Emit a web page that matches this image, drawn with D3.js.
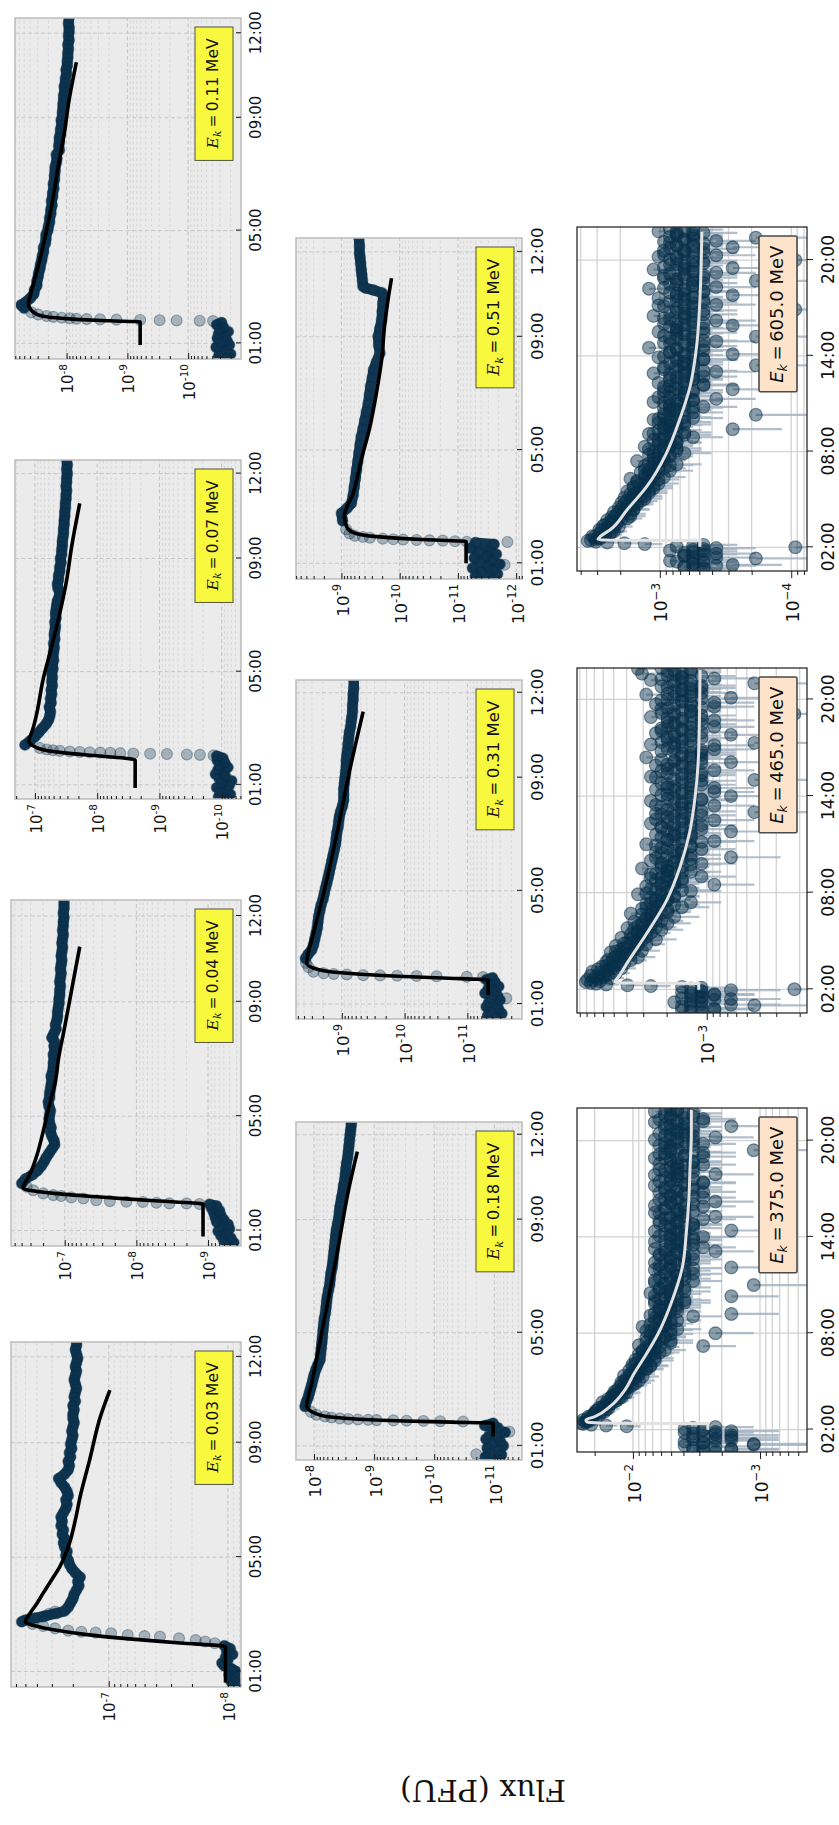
<!DOCTYPE html>
<html>
<head>
<meta charset="utf-8">
<script src="https://cdn.jsdelivr.net/npm/d3@7"></script>
<style>
  body { margin: 0; background: #fff; }
  svg { display: block; }
  text { font-family: "DejaVu Sans", sans-serif; fill: #111; }
</style>
</head>
<body>
<svg id="fig" width="839" height="1825"></svg>
<script>
// ---------------------------------------------------------------
// Proton flux time profiles, one panel per kinetic-energy channel.
// Low-energy channels: [hour, log10 flux] samples, onset points and
// the fitted profile.  High-energy channels: counts per sample.
// ---------------------------------------------------------------
const hourTicksLow  = [1, 5, 9, 12];
const hourTicksHigh = [2, 8, 14, 20];

// ---- 0.03 MeV ----
const pre003 = [[0.50,-8.04],[0.60,-8.08],[0.70,-8.02],[0.80,-8.06],[0.90,-8.01],[1.00,-8.07],[1.10,-8.03],[1.20,-7.97],[1.30,-7.95],[1.40,-8.00],[1.50,-7.98],[1.60,-8.04],[1.70,-7.99],[1.80,-8.02],[1.90,-7.97]];
const onset003 = [[1.99,-7.89],[2.05,-7.81],[2.10,-7.73],[2.16,-7.59],[2.22,-7.43],[2.24,-7.30],[2.28,-7.16],[2.34,-7.02],[2.36,-6.89],[2.39,-6.77],[2.43,-6.66],[2.51,-6.55],[2.59,-6.45],[2.66,-6.36],[2.92,-6.45],[3.02,-6.50],[3.10,-6.55]];
const decay003 = [[2.74,-6.27],[2.80,-6.30],[2.87,-6.38],[2.95,-6.47],[3.03,-6.56],[3.12,-6.63],[3.25,-6.66],[3.40,-6.68],[3.55,-6.70],[3.70,-6.71],[3.85,-6.73],[4.00,-6.75],[4.15,-6.74],[4.30,-6.76],[4.45,-6.72],[4.60,-6.69],[4.75,-6.67],[4.90,-6.66],[5.05,-6.64],[5.20,-6.65],[5.35,-6.63],[5.50,-6.62],[5.65,-6.63],[5.80,-6.61],[5.95,-6.62],[6.10,-6.60],[6.25,-6.61],[6.40,-6.60],[6.55,-6.62],[6.70,-6.64],[6.85,-6.65],[7.00,-6.64],[7.15,-6.66],[7.30,-6.65],[7.45,-6.63],[7.60,-6.60],[7.75,-6.58],[7.90,-6.63],[8.05,-6.66],[8.20,-6.67],[8.35,-6.66],[8.50,-6.68],[8.65,-6.67],[8.80,-6.69],[8.95,-6.68],[9.10,-6.69],[9.25,-6.70],[9.40,-6.69],[9.55,-6.70],[9.70,-6.71],[9.85,-6.70],[10.00,-6.70],[10.15,-6.71],[10.30,-6.70],[10.45,-6.72],[10.60,-6.71],[10.75,-6.72],[10.90,-6.73],[11.05,-6.72],[11.20,-6.71],[11.35,-6.72],[11.50,-6.73],[11.65,-6.72],[11.80,-6.73],[11.95,-6.74],[12.10,-6.73],[12.25,-6.72],[12.40,-6.73],[12.55,-6.73]];
const fit003 = [[0.62,-7.98],[1.87,-7.98],[2.00,-7.60],[2.15,-7.15],[2.30,-6.80],[2.45,-6.55],[2.60,-6.38],[2.72,-6.30],[2.85,-6.31],[3.04,-6.34],[3.40,-6.40],[3.74,-6.45],[4.20,-6.52],[4.67,-6.59],[5.48,-6.67],[6.30,-6.72],[7.11,-6.76],[8.40,-6.84],[9.91,-6.93],[10.84,-7.01]];

// ---- 0.04 MeV ----
const pre004 = [[0.50,-9.28],[0.58,-9.36],[0.66,-9.22],[0.74,-9.32],[0.82,-9.18],[0.90,-9.26],[0.98,-9.14],[1.06,-9.30],[1.14,-9.20],[1.22,-9.28],[1.30,-9.12],[1.38,-9.22],[1.46,-9.10],[1.54,-9.18],[1.62,-9.08],[1.70,-9.16],[1.78,-9.05],[1.86,-9.12],[1.92,-9.02]];
const onset004 = [[1.93,-8.88],[1.95,-8.70],[1.95,-8.46],[1.97,-8.28],[2.00,-8.09],[2.01,-7.86],[2.03,-7.63],[2.06,-7.44],[2.12,-7.26],[2.16,-7.09],[2.21,-6.95],[2.24,-6.84],[2.30,-6.70],[2.41,-6.56],[2.53,-6.47]];
const decay004 = [[2.65,-6.40],[2.80,-6.45],[2.95,-6.55],[3.10,-6.62],[3.25,-6.67],[3.40,-6.71],[3.55,-6.74],[3.70,-6.78],[3.85,-6.82],[4.00,-6.86],[4.15,-6.85],[4.30,-6.82],[4.45,-6.80],[4.60,-6.81],[4.75,-6.79],[4.90,-6.78],[5.05,-6.79],[5.20,-6.80],[5.35,-6.78],[5.50,-6.77],[5.65,-6.79],[5.80,-6.79],[5.95,-6.80],[6.10,-6.81],[6.25,-6.82],[6.40,-6.81],[6.55,-6.83],[6.70,-6.84],[6.85,-6.84],[7.00,-6.85],[7.15,-6.84],[7.30,-6.86],[7.45,-6.85],[7.60,-6.86],[7.75,-6.82],[7.90,-6.85],[8.05,-6.88],[8.20,-6.87],[8.35,-6.89],[8.50,-6.90],[8.65,-6.90],[8.80,-6.91],[8.95,-6.92],[9.10,-6.92],[9.25,-6.93],[9.40,-6.93],[9.55,-6.94],[9.70,-6.93],[9.85,-6.94],[10.00,-6.95],[10.15,-6.94],[10.30,-6.95],[10.45,-6.96],[10.60,-6.95],[10.75,-6.96],[10.90,-6.97],[11.05,-6.96],[11.20,-6.97],[11.35,-6.98],[11.50,-6.97],[11.65,-6.98],[11.80,-6.98],[11.95,-6.99],[12.10,-6.98],[12.25,-6.99],[12.40,-6.99],[12.58,-6.99]];
const fit004 = [[0.79,-8.93],[1.92,-8.93],[2.05,-8.20],[2.18,-7.45],[2.30,-6.85],[2.40,-6.52],[2.48,-6.42],[2.60,-6.43],[2.85,-6.49],[3.25,-6.56],[3.70,-6.62],[4.17,-6.67],[5.22,-6.77],[6.38,-6.88],[6.96,-6.91],[8.00,-6.99],[9.06,-7.07],[10.00,-7.14],[10.93,-7.21]];

// ---- 0.07 MeV ----
const pre007 = [[0.50,-10.10],[0.58,-9.95],[0.66,-10.14],[0.74,-9.98],[0.82,-10.08],[0.90,-9.92],[0.98,-10.12],[1.06,-10.00],[1.14,-10.16],[1.22,-9.96],[1.30,-10.06],[1.38,-9.90],[1.46,-10.04],[1.54,-9.94],[1.62,-10.10],[1.70,-9.97],[1.78,-10.05],[1.86,-9.93],[1.94,-10.02],[2.02,-9.92]];
const onset007 = [[2.04,-9.87],[2.06,-9.65],[2.07,-9.44],[2.09,-9.12],[2.10,-8.85],[2.11,-8.58],[2.12,-8.37],[2.13,-8.21],[2.14,-8.05],[2.15,-7.88],[2.16,-7.72],[2.18,-7.56],[2.20,-7.40],[2.22,-7.29],[2.25,-7.19],[2.30,-7.08]];
const decay007 = [[2.41,-6.84],[2.55,-6.92],[2.70,-7.00],[2.85,-7.06],[3.00,-7.12],[3.15,-7.18],[3.30,-7.22],[3.45,-7.24],[3.60,-7.25],[3.75,-7.23],[3.90,-7.26],[4.05,-7.25],[4.20,-7.27],[4.35,-7.26],[4.50,-7.28],[4.65,-7.27],[4.80,-7.28],[4.95,-7.27],[5.10,-7.29],[5.25,-7.28],[5.40,-7.30],[5.55,-7.29],[5.70,-7.30],[5.85,-7.31],[6.00,-7.30],[6.15,-7.32],[6.30,-7.31],[6.45,-7.32],[6.60,-7.33],[6.75,-7.32],[6.90,-7.34],[7.05,-7.33],[7.20,-7.34],[7.35,-7.35],[7.50,-7.36],[7.65,-7.39],[7.80,-7.40],[7.95,-7.37],[8.10,-7.36],[8.25,-7.38],[8.40,-7.38],[8.55,-7.40],[8.70,-7.40],[8.85,-7.42],[9.00,-7.41],[9.15,-7.43],[9.30,-7.43],[9.45,-7.44],[9.60,-7.44],[9.75,-7.45],[9.90,-7.46],[10.05,-7.46],[10.20,-7.47],[10.35,-7.47],[10.50,-7.48],[10.65,-7.48],[10.80,-7.49],[10.95,-7.49],[11.10,-7.50],[11.25,-7.50],[11.40,-7.51],[11.55,-7.50],[11.70,-7.51],[11.85,-7.51],[12.00,-7.52],[12.15,-7.51],[12.30,-7.52],[12.50,-7.51]];
const fit007 = [[0.89,-8.61],[1.88,-8.61],[2.02,-8.05],[2.12,-7.51],[2.24,-7.13],[2.41,-6.95],[2.55,-6.90],[2.75,-6.93],[3.00,-6.97],[3.53,-7.03],[4.71,-7.13],[5.89,-7.27],[7.07,-7.40],[8.24,-7.51],[9.42,-7.59],[10.95,-7.72]];

// ---- 0.11 MeV ----
const pre011 = [[0.46,-10.66],[0.54,-10.50],[0.62,-10.70],[0.70,-10.52],[0.78,-10.62],[0.86,-10.46],[0.94,-10.68],[1.02,-10.55],[1.10,-10.64],[1.18,-10.48],[1.26,-10.60],[1.34,-10.50],[1.42,-10.66],[1.50,-10.52],[1.58,-10.58],[1.66,-10.47],[1.74,-10.55]];
const onset011 = [[1.79,-10.41],[1.80,-10.19],[1.81,-9.81],[1.82,-9.53],[1.83,-9.21],[1.84,-8.82],[1.85,-8.55],[1.86,-8.33],[1.87,-8.16],[1.89,-8.05],[1.91,-7.92],[1.94,-7.78],[1.97,-7.67],[2.02,-7.53],[2.10,-7.42]];
const decay011 = [[2.25,-7.30],[2.36,-7.25],[2.47,-7.33],[2.60,-7.40],[2.75,-7.46],[2.90,-7.47],[3.05,-7.51],[3.20,-7.51],[3.35,-7.53],[3.50,-7.54],[3.65,-7.56],[3.80,-7.57],[3.95,-7.59],[4.10,-7.60],[4.25,-7.62],[4.40,-7.62],[4.55,-7.65],[4.70,-7.66],[4.85,-7.66],[5.00,-7.69],[5.15,-7.70],[5.30,-7.72],[5.45,-7.72],[5.60,-7.74],[5.75,-7.74],[5.90,-7.76],[6.05,-7.75],[6.20,-7.77],[6.35,-7.77],[6.50,-7.79],[6.65,-7.78],[6.80,-7.80],[6.95,-7.80],[7.10,-7.81],[7.25,-7.81],[7.40,-7.83],[7.55,-7.84],[7.70,-7.83],[7.85,-7.88],[8.00,-7.87],[8.15,-7.88],[8.30,-7.88],[8.45,-7.90],[8.60,-7.90],[8.75,-7.92],[8.90,-7.91],[9.05,-7.93],[9.20,-7.93],[9.35,-7.94],[9.50,-7.94],[9.65,-7.95],[9.80,-7.95],[9.95,-7.97],[10.10,-7.96],[10.25,-7.98],[10.40,-7.98],[10.55,-8.00],[10.70,-7.99],[10.85,-8.01],[11.00,-8.01],[11.15,-8.02],[11.30,-8.02],[11.45,-8.03],[11.60,-8.02],[11.75,-8.04],[11.90,-8.03],[12.05,-8.04],[12.20,-8.04],[12.35,-8.03],[12.56,-8.04]];
const fit011 = [[0.94,-9.21],[1.76,-9.21],[1.80,-8.70],[1.85,-8.15],[1.92,-7.75],[2.02,-7.52],[2.20,-7.41],[2.42,-7.37],[2.60,-7.39],[3.00,-7.44],[3.72,-7.53],[4.90,-7.66],[6.08,-7.77],[7.26,-7.86],[8.44,-7.96],[9.62,-8.04],[10.97,-8.16]];

// ---- 0.18 MeV ----
const pre018 = [[0.52,-11.05],[0.60,-10.85],[0.68,-11.12],[0.76,-10.90],[0.84,-11.08],[0.92,-10.88],[1.00,-11.15],[1.08,-10.95],[1.16,-11.10],[1.24,-10.86],[1.32,-11.04],[1.40,-10.92],[1.48,-11.18],[1.56,-10.96],[1.64,-11.06],[1.72,-10.84],[1.80,-10.98]];
const onset018 = [[0.70,-10.70],[1.50,-11.25],[1.86,-10.48],[1.87,-10.10],[1.88,-9.82],[1.89,-9.54],[1.90,-9.32],[1.91,-9.04],[1.92,-8.90],[1.93,-8.73],[1.95,-8.57],[1.97,-8.43],[2.00,-8.29],[2.04,-8.18],[2.10,-8.04],[2.20,-7.95]];
const decay018 = [[2.39,-7.85],[2.55,-7.87],[2.70,-7.90],[2.85,-7.92],[3.00,-7.94],[3.15,-7.96],[3.33,-7.98],[3.50,-8.00],[3.70,-8.03],[3.85,-8.06],[4.04,-8.10],[4.25,-8.11],[4.45,-8.12],[4.65,-8.13],[4.85,-8.14],[5.10,-8.15],[5.30,-8.16],[5.50,-8.17],[5.70,-8.19],[5.90,-8.20],[6.10,-8.21],[6.28,-8.22],[6.50,-8.24],[6.70,-8.26],[6.90,-8.27],[7.10,-8.28],[7.30,-8.30],[7.46,-8.31],[7.65,-8.32],[7.85,-8.33],[8.05,-8.34],[8.25,-8.35],[8.45,-8.36],[8.63,-8.37],[8.85,-8.39],[9.05,-8.41],[9.25,-8.42],[9.45,-8.43],[9.65,-8.45],[9.81,-8.46],[10.00,-8.48],[10.20,-8.49],[10.40,-8.51],[10.60,-8.52],[10.80,-8.53],[10.99,-8.54],[11.20,-8.56],[11.40,-8.57],[11.60,-8.58],[11.80,-8.59],[12.00,-8.60],[12.17,-8.61],[12.35,-8.62],[12.50,-8.62]];
const fit018 = [[1.33,-10.98],[1.80,-10.98],[1.84,-10.30],[1.88,-9.50],[1.94,-8.75],[2.02,-8.28],[2.15,-8.02],[2.40,-7.88],[3.20,-7.96],[4.04,-8.04],[6.00,-8.22],[8.00,-8.40],[10.00,-8.57],[11.40,-8.72]];

// ---- 0.31 MeV ----
const pre031 = [[0.50,-11.48],[0.58,-11.32],[0.66,-11.55],[0.74,-11.36],[0.82,-11.50],[0.90,-11.30],[0.98,-11.46],[1.06,-11.34],[1.14,-11.52],[1.22,-11.38],[1.30,-11.48],[1.38,-11.28],[1.46,-11.44],[1.54,-11.33],[1.62,-11.50],[1.70,-11.36],[1.78,-11.44],[1.86,-11.30],[1.93,-11.40]];
const onset031 = [[1.20,-11.62],[1.95,-11.25],[1.96,-10.99],[1.98,-10.51],[1.99,-10.19],[2.00,-9.88],[2.01,-9.61],[2.02,-9.34],[2.04,-9.08],[2.06,-8.87],[2.09,-8.71],[2.14,-8.55],[2.30,-8.47],[2.45,-8.43]];
const decay031 = [[2.61,-8.42],[2.75,-8.46],[2.91,-8.52],[3.10,-8.55],[3.30,-8.57],[3.50,-8.59],[3.70,-8.61],[3.90,-8.62],[4.09,-8.63],[4.30,-8.65],[4.50,-8.67],[4.70,-8.70],[4.90,-8.72],[5.10,-8.74],[5.27,-8.76],[5.45,-8.78],[5.65,-8.80],[5.85,-8.82],[6.05,-8.84],[6.25,-8.86],[6.44,-8.88],[6.65,-8.90],[6.85,-8.91],[7.05,-8.92],[7.25,-8.94],[7.45,-8.95],[7.62,-8.96],[7.80,-8.98],[8.00,-9.01],[8.21,-9.03],[8.40,-9.03],[8.60,-9.03],[8.80,-9.04],[9.00,-9.05],[9.20,-9.06],[9.40,-9.07],[9.60,-9.07],[9.80,-9.08],[9.98,-9.09],[10.20,-9.10],[10.40,-9.11],[10.60,-9.12],[10.80,-9.14],[11.00,-9.15],[11.15,-9.16],[11.35,-9.17],[11.55,-9.17],[11.75,-9.18],[11.95,-9.18],[12.15,-9.19],[12.50,-9.19]];
const fit031 = [[1.32,-11.33],[1.85,-11.33],[1.92,-10.60],[1.98,-9.90],[2.05,-9.30],[2.12,-8.90],[2.22,-8.62],[2.44,-8.44],[3.50,-8.55],[5.00,-8.72],[7.00,-8.92],[9.00,-9.10],[11.33,-9.34]];

// ---- 0.51 MeV ----
const pre051 = [[0.48,-11.55],[0.55,-11.30],[0.62,-11.68],[0.69,-11.40],[0.76,-11.60],[0.83,-11.25],[0.90,-11.52],[0.97,-11.72],[1.04,-11.38],[1.11,-11.58],[1.18,-11.28],[1.25,-11.50],[1.32,-11.66],[1.39,-11.35],[1.46,-11.55],[1.53,-11.22],[1.60,-11.48],[1.67,-11.62],[1.73,-11.30]];
const onset051 = [[0.95,-11.80],[1.75,-11.85],[1.76,-11.15],[1.78,-10.95],[1.80,-10.74],[1.81,-10.51],[1.82,-10.29],[1.84,-10.06],[1.85,-9.89],[1.87,-9.71],[1.90,-9.49],[1.93,-9.37],[1.97,-9.23],[2.05,-9.14],[2.20,-9.08]];
const decay051 = [[2.50,-9.02],[2.77,-9.00],[2.95,-9.10],[3.12,-9.17],[3.40,-9.20],[3.70,-9.22],[4.00,-9.24],[4.30,-9.26],[4.60,-9.28],[4.90,-9.30],[5.20,-9.32],[5.47,-9.34],[5.75,-9.37],[6.05,-9.40],[6.35,-9.43],[6.65,-9.46],[6.95,-9.48],[7.25,-9.50],[7.55,-9.53],[7.83,-9.55],[8.10,-9.60],[8.42,-9.66],[8.70,-9.64],[9.01,-9.63],[9.30,-9.66],[9.60,-9.69],[9.90,-9.70],[10.19,-9.71],[10.40,-9.72],[10.55,-9.70],[10.65,-9.55],[10.72,-9.42],[10.78,-9.37],[11.00,-9.36],[11.20,-9.35],[11.37,-9.34],[11.60,-9.33],[11.80,-9.32],[11.96,-9.31],[12.20,-9.31],[12.52,-9.30]];
const fit051 = [[1.00,-11.14],[1.77,-11.14],[1.82,-10.60],[1.88,-10.00],[1.95,-9.55],[2.05,-9.25],[2.25,-9.10],[2.65,-9.05],[3.47,-9.20],[4.65,-9.34],[5.83,-9.49],[7.01,-9.60],[8.19,-9.69],[9.37,-9.74],[10.31,-9.80],[11.07,-9.86]];

// ---- high-energy channels: counts every 0.1 h, two interleaved series ----
const countsStartA = 0.60;
const countsStartB = 0.65;
const countsCadence = 0.1;

const countFlux375 = 5.6e-4;
const counts375a = [
  4,6,3,5,7,2,5,4,6,3,
  5,4,7,3,5,6,20,38,46,41,
  44,37,40,33,36,30,34,28,31,29,
  27,31,24,28,22,26,25,20,24,21,
  23,19,22,17,21,18,20,15,19,17,
  16,19,14,18,13,17,15,12,16,14,
  13,16,11,15,12,14,5,13,9,12,
  11,14,10,12,4,13,9,11,15,10,
  9,12,8,11,10,13,3,10,9,11,
  8,11,9,7,12,8,10,3,9,13,
  7,9,11,8,2,10,8,12,7,9,
  8,6,10,7,11,3,9,8,12,7,
  6,9,7,11,8,4,10,7,9,6,
  8,12,6,9,5,7,10,8,3,9,
  7,10,6,8,11,5,9,7,8,12,
  6,8,10,5,7,9,4,11,8,6,
  9,7,5,10,8,6,12,7,5,9,
  6,10,8,4,9,7,11,6,8,5,
  8,6,9,12,5,7,10,6,2,9,
  7,11,5,8,6,9,4,10,7,8,
  6,9,7,3,10,8,5,11,7,6,
  9,6,12,8];
const counts375b = [
  5,3,6,4,2,5,7,3,4,6,
  3,6,4,5,7,4,29,44,42,39,
  41,35,38,36,32,35,29,33,30,27,
  29,25,27,23,26,24,21,25,22,20,
  21,18,20,22,16,19,17,21,16,18,
  17,14,16,13,18,15,14,17,12,15,
  14,12,15,10,13,11,16,12,14,9,
  12,10,13,9,11,14,8,12,10,13,
  10,11,9,12,6,10,12,8,11,9,
  10,8,12,9,7,11,9,12,8,10,
  9,11,7,10,8,12,6,9,11,8,
  7,10,8,12,6,9,11,7,9,10,
  9,7,11,6,10,8,12,5,8,9,
  7,10,8,6,11,9,7,12,8,6,
  9,6,11,8,7,10,4,9,11,7,
  8,10,7,12,6,9,8,10,5,9,
  7,11,8,6,10,9,7,5,11,8,
  9,7,12,8,6,10,8,9,7,11,
  6,9,8,10,7,11,5,9,8,10,
  9,6,10,7,12,8,6,9,11,7,
  8,10,6,9,7,12,8,5,9,10,
  7,10,8,9];
const fit375 = [[1.98,-2.59],[2.36,-2.59],[2.38,-2.10],[2.41,-1.75],[2.47,-1.64],[2.60,-1.63],[2.80,-1.70],[3.50,-1.83],[4.50,-1.94],[5.50,-2.01],[6.50,-2.09],[8.00,-2.20],[10.07,-2.31],[12.15,-2.39],[14.23,-2.42],[16.30,-2.44],[18.40,-2.45],[20.50,-2.46],[21.90,-2.46]];

const countFlux465 = 2.19e-4;
const counts465a = [
  5,7,4,6,2,5,8,6,3,5,
  6,4,7,5,1,5,12,26,34,29,
  36,24,31,27,22,33,25,20,28,23,
  19,26,17,23,15,21,18,24,14,20,
  16,22,13,18,15,11,20,14,17,12,
  15,10,18,12,14,9,16,11,13,8,
  12,17,9,11,14,7,10,13,6,11,
  9,12,8,15,10,6,11,8,13,4,
  10,7,9,12,5,8,11,6,9,14,
  7,10,5,8,12,6,3,9,7,11,
  8,5,10,6,13,7,4,9,6,8,
  11,6,3,8,7,10,5,12,6,4,
  7,9,5,11,2,8,6,10,4,7,
  6,12,5,8,3,9,6,7,11,4,
  8,5,10,6,2,7,12,5,9,6,
  4,9,6,11,7,3,8,5,13,6,
  7,5,10,4,8,6,12,2,7,9,
  5,8,3,11,6,7,10,4,8,6,
  9,4,7,12,5,1,8,6,10,5,
  6,11,4,7,9,3,6,13,5,8,
  7,5,10,6,2,8,12,4,7,9,
  14,6,8,15];
const counts465b = [
  6,4,5,7,3,6,5,4,7,5,
  4,6,5,3,6,7,18,31,37,33,
  30,27,34,25,29,26,30,23,26,21,
  24,21,25,19,22,17,20,22,16,19,
  18,15,19,16,14,17,13,16,15,14,
  13,16,11,15,12,14,10,13,12,11,
  14,10,12,9,13,11,8,12,10,9,
  11,8,10,13,9,7,12,9,10,8,
  8,11,7,10,9,12,7,9,8,10,
  9,6,10,8,7,11,8,6,10,7,
  7,9,6,11,8,5,9,7,10,6,
  8,7,9,5,10,6,8,9,7,11,
  6,8,10,7,5,9,7,6,11,8,
  7,5,9,6,10,7,4,8,6,9,
  6,9,7,5,8,11,6,7,5,10,
  8,6,7,9,5,8,10,6,7,5,
  6,8,5,9,7,4,8,10,6,7,
  9,6,8,5,10,7,6,9,5,8,
  7,5,9,6,8,10,6,7,9,4,
  8,6,7,10,5,8,7,9,6,7,
  6,9,5,8,7,6,10,7,5,8,
  7,9,6,10];
const fit465 = [[1.98,-2.94],[2.36,-2.94],[2.38,-2.60],[2.40,-2.35],[2.45,-2.31],[2.80,-2.34],[3.61,-2.40],[5.48,-2.55],[7.54,-2.70],[9.61,-2.80],[11.68,-2.87],[13.75,-2.91],[16.86,-2.94],[21.82,-2.95]];

const countFlux605 = 9.3e-5;
const counts605a = [
  6,5,7,3,6,8,5,2,6,7,
  4,6,9,5,1,6,14,27,38,33,
  30,35,26,29,24,31,27,22,28,25,
  23,27,19,25,21,18,24,20,17,22,
  19,16,21,15,18,20,14,17,13,19,
  15,12,17,14,11,16,13,18,10,14,
  12,15,9,13,11,14,8,12,16,10,
  11,9,13,7,12,10,8,14,9,11,
  8,12,10,6,9,13,7,11,3,10,
  9,7,11,8,12,6,10,2,9,8,
  7,10,5,9,8,12,6,4,11,7,
  8,6,10,3,7,9,5,11,7,6,
  9,5,7,12,4,8,6,10,2,7,
  6,8,5,11,7,3,9,6,8,13,
  5,7,10,4,6,9,2,8,6,11,
  7,5,8,3,10,6,4,9,7,12,
  5,8,6,1,7,10,4,6,9,5,
  11,6,3,8,5,7,13,4,6,9,
  6,2,8,5,10,7,4,6,12,3,
  7,9,5,6,1,8,11,4,7,6,
  10,5,3,8,6,9,4,7,2,6,
  8,5,11,6];
const counts605b = [
  5,7,4,6,5,9,6,4,7,5,
  7,5,6,4,8,5,20,33,36,31,
  34,28,31,25,30,27,24,29,23,26,
  25,21,24,18,23,20,22,17,21,19,
  17,20,16,19,14,17,15,18,16,13,
  14,17,12,15,13,16,11,14,12,13,
  13,11,14,10,12,9,13,11,10,12,
  10,12,9,11,8,13,10,9,11,8,
  9,11,8,10,7,12,9,8,10,9,
  8,10,7,9,11,7,8,10,6,9,
  8,6,9,7,10,8,6,9,7,10,
  7,9,6,8,10,5,8,7,9,6,
  8,6,9,7,5,10,7,8,6,9,
  7,5,8,10,6,7,9,5,8,6,
  6,9,7,5,8,6,10,7,5,8,
  8,6,9,7,5,8,6,10,7,6,
  7,9,5,8,6,11,7,5,8,7,
  6,8,7,9,5,7,10,6,8,5,
  8,6,10,7,5,9,6,8,7,10,
  6,8,7,5,9,6,8,10,5,7,
  7,9,6,8,5,10,7,6,9,8,
  6,8,7,9];
const fit605 = [[2.04,-3.305],[2.42,-3.305],[2.44,-2.90],[2.46,-2.60],[2.50,-2.53],[2.70,-2.55],[3.08,-2.62],[4.34,-2.75],[5.80,-2.90],[7.89,-3.05],[9.98,-3.15],[12.06,-3.23],[14.57,-3.28],[17.50,-3.305],[21.77,-3.32]];

// ---------------------------------------------------------------
// Layout: the figure is laid out landscape (1825 x 839) and turned
// a quarter turn to fit the portrait page.
// box = [left, right, top, bottom] in landscape pixels.
// ---------------------------------------------------------------
const lowPanels = [
  {id:'003', energy:'0.03', box:[138,483,11,241],  t:[0.46,12.52], lv:[-8.11,-6.18],  pre:pre003, onset:onset003, decay:decay003, fit:fit003, fs:15,   lfs:15.5},
  {id:'004', energy:'0.04', box:[579,925,11,241],  t:[0.46,12.56], lv:[-9.46,-6.25],  pre:pre004, onset:onset004, decay:decay004, fit:fit004, fs:15,   lfs:15.5},
  {id:'007', energy:'0.07', box:[1026,1365,15,241],t:[0.50,12.48], lv:[-10.31,-6.68], pre:pre007, onset:onset007, decay:decay007, fit:fit007, fs:15,   lfs:15.5},
  {id:'011', energy:'0.11', box:[1466,1807,15,241],t:[0.445,12.54],lv:[-10.87,-7.15], pre:pre011, onset:onset011, decay:decay011, fit:fit011, fs:15,   lfs:15.5},
  {id:'018', energy:'0.18', box:[365,703,296,522], t:[0.50,12.45], lv:[-11.46,-7.70], pre:pre018, onset:onset018, decay:decay018, fit:fit018, fs:16.5, lfs:16.5},
  {id:'031', energy:'0.31', box:[806,1145,296,522],t:[0.47,12.45], lv:[-11.87,-8.27], pre:pre031, onset:onset031, decay:decay031, fit:fit031, fs:16.5, lfs:16.5},
  {id:'051', energy:'0.51', box:[1246,1587,296,522],t:[0.445,12.49],lv:[-12.10,-8.22], pre:pre051, onset:onset051, decay:decay051, fit:fit051, fs:16.5, lfs:16.5}
];
const highPanels = [
  {id:'375', energy:'375.0', box:[373,717,577,807],  t:[0.60,22.03], lv:[-3.37,-1.56],   countsA:counts375a, countsB:counts375b, c:countFlux375, fit:fit375, fs:17, lfs:18},
  {id:'465', energy:'465.0', box:[812,1157,577,807], t:[0.53,21.95], lv:[-3.754,-2.025], countsA:counts465a, countsB:counts465b, c:countFlux465, fit:fit465, fs:17, lfs:18},
  {id:'605', energy:'605.0', box:[1254,1598,577,807],t:[0.515,22.07],lv:[-4.12,-2.37],   countsA:counts605a, countsB:counts605b, c:countFlux605, fit:fit605, fs:17, lfs:18}
];

const NAVY = '#08304b';
const svg = d3.select('#fig');
const fig = svg.append('g').attr('transform', 'translate(0,1825) rotate(-90)');

const hourFmt = h => d3.format('02d')(h) + ':00';

function setupAxes(p, hi) {
  const [x0, x1, y0, y1] = p.box;
  const w = x1 - x0, h = y1 - y0;
  const g = fig.append('g').attr('transform', `translate(${x0},${y0})`);
  const x = d3.scaleLinear().domain(p.t).range([0, w]);
  const y = d3.scaleLog().domain([Math.pow(10, p.lv[0]), Math.pow(10, p.lv[1])]).range([h, 0]);
  const all = y.ticks();
  const isMajor = v => Math.abs(Math.log10(v) - Math.round(Math.log10(v))) < 1e-6;
  const major = all.filter(isMajor);
  const minor = all.filter(v => !isMajor(v));
  const hours = hi ? hourTicksHigh : hourTicksLow;

  g.append('clipPath').attr('id', 'clip' + p.id)
    .append('rect').attr('width', w).attr('height', h);

  g.append('rect').attr('width', w).attr('height', h)
    .attr('fill', hi ? '#ffffff' : '#ebebeb');

  const grid = g.append('g');
  if (hi) {
    grid.selectAll('line.gy').data(all).join('line')
      .attr('x1', 0).attr('x2', w).attr('y1', d => y(d)).attr('y2', d => y(d))
      .attr('stroke', '#d2d2d2').attr('stroke-width', 1.3);
    grid.selectAll('line.gx').data(hours).join('line')
      .attr('x1', d => x(d)).attr('x2', d => x(d)).attr('y1', 0).attr('y2', h)
      .attr('stroke', '#d2d2d2').attr('stroke-width', 1.3);
  } else {
    grid.selectAll('line.gm').data(minor).join('line')
      .attr('x1', 0).attr('x2', w).attr('y1', d => y(d)).attr('y2', d => y(d))
      .attr('stroke', '#d3d3d3').attr('stroke-width', 0.8).attr('stroke-dasharray', '3,2.5');
    grid.selectAll('line.gM').data(major).join('line')
      .attr('x1', 0).attr('x2', w).attr('y1', d => y(d)).attr('y2', d => y(d))
      .attr('stroke', '#c4c4c4').attr('stroke-width', 1).attr('stroke-dasharray', '4,2.5');
    grid.selectAll('line.gx').data(hours).join('line')
      .attr('x1', d => x(d)).attr('x2', d => x(d)).attr('y1', 0).attr('y2', h)
      .attr('stroke', '#c8c8c8').attr('stroke-width', 1).attr('stroke-dasharray', '4,2.5');
  }
  return {g, x, y, w, h, major, minor, hours};
}

function finishAxes(p, hi, A) {
  const {g, x, y, w, h, major, minor, hours} = A;
  g.append('rect').attr('width', w).attr('height', h).attr('fill', 'none')
    .attr('stroke', hi ? '#1a1a1a' : '#bdbdbd').attr('stroke-width', hi ? 1.2 : 1.5);

  const dir = hi ? 1 : -1;
  const tickCol = '#1a1a1a';
  const noDomain = s => s.select('.domain').remove();

  g.append('g').attr('color', tickCol)
    .call(d3.axisLeft(y).tickValues(major).tickSize(dir * (hi ? 7 : 6)).tickFormat(''))
    .call(noDomain);
  g.append('g').attr('color', tickCol)
    .call(d3.axisLeft(y).tickValues(minor).tickSize(dir * (hi ? 4 : 3)).tickFormat(''))
    .call(noDomain);

  const xa = g.append('g').attr('transform', `translate(0,${h})`).attr('color', tickCol)
    .call(d3.axisBottom(x).tickValues(hours).tickSize(dir * (hi ? 6 : 5))
      .tickPadding(hi ? 8.5 : 9).tickFormat(hourFmt))
    .call(noDomain);
  xa.selectAll('text').attr('font-size', p.fs).attr('font-family', 'DejaVu Sans').attr('fill', '#111');

  // decade labels with superscript exponents
  const fs = p.fs;
  const lab = g.append('g');
  major.forEach(v => {
    const e = Math.round(Math.log10(v));
    const t = lab.append('text')
      .attr('x', hi ? -12 : -5).attr('y', y(v) + 0.45 * fs)
      .attr('text-anchor', 'end').attr('font-size', fs);
    t.append('tspan').text('10');
    t.append('tspan').attr('dy', -0.45 * fs).attr('font-size', 0.7 * fs)
      .text((hi ? '\u2212' : '-') + Math.abs(e));
  });

  // energy label box
  const lg = g.append('g');
  const box = lg.append('rect');
  const txt = lg.append('text').attr('font-size', p.lfs);
  const serif = hi ? 'DejaVu Sans' : 'DejaVu Serif';
  txt.append('tspan').attr('font-family', serif).attr('font-style', 'italic').text('E');
  txt.append('tspan').attr('font-family', serif).attr('font-style', 'italic')
    .attr('font-size', 0.7 * p.lfs).attr('dy', 0.22 * p.lfs).text('k');
  txt.append('tspan').attr('font-family', serif).attr('dy', -0.22 * p.lfs).text('\u2009=\u2009');
  txt.append('tspan').attr('font-family', 'DejaVu Sans').text(p.energy + ' MeV');
  const bb = txt.node().getBBox();
  const padX = hi ? 9 : 11, boxH = 38;
  const boxW = bb.width + 2 * padX;
  const bx = w - 9 - boxW, by = h - (hi ? 10 : 8) - boxH;
  box.attr('x', bx).attr('y', by).attr('width', boxW).attr('height', boxH)
    .attr('fill', hi ? '#fde3c9' : '#f8f83e')
    .attr('stroke', hi ? '#4a4a4a' : '#55553f').attr('stroke-width', hi ? 1.6 : 1)
    .attr('rx', hi ? 1.5 : 0);
  txt.attr('transform', `translate(${bx + padX - bb.x},${by + boxH / 2 - (bb.y + bb.height / 2)})`);
}

function drawLow(p) {
  const A = setupAxes(p, false);
  const {g, x, y} = A;
  const dg = g.append('g').attr('clip-path', `url(#clip${p.id})`);
  const band = d3.line().x(d => x(d[0])).y(d => y(Math.pow(10, d[1])));
  [p.pre, p.decay].forEach(arr => {
    dg.append('path').attr('d', band(arr)).attr('fill', 'none')
      .attr('stroke', '#072c47').attr('stroke-width', 10.5)
      .attr('stroke-linecap', 'round').attr('stroke-linejoin', 'round')
      .attr('stroke-opacity', 0.93);
  });
  dg.selectAll('circle').data([...p.pre, ...p.onset, ...p.decay]).join('circle')
    .attr('cx', d => x(d[0])).attr('cy', d => y(Math.pow(10, d[1]))).attr('r', 5.5)
    .attr('fill', NAVY).attr('fill-opacity', 0.3)
    .attr('stroke', NAVY).attr('stroke-opacity', 0.35).attr('stroke-width', 1.1);
  const fitLine = d3.line().x(d => x(d[0])).y(d => y(Math.pow(10, d[1]))).curve(d3.curveMonotoneX);
  dg.append('path').attr('d', fitLine(p.fit)).attr('fill', 'none')
    .attr('stroke', '#000').attr('stroke-width', 3.6).attr('stroke-linejoin', 'round');
  finishAxes(p, false, A);
}

function drawHigh(p) {
  const A = setupAxes(p, true);
  const {g, x, y, h} = A;
  const [ymin] = y.domain();
  const toPts = (arr, start) => arr.map((n, i) => ({t: start + i * countsCadence, n, v: n * p.c}));
  const pts = [...toPts(p.countsA, countsStartA), ...toPts(p.countsB, countsStartB)]
    .sort((a, b) => a.t - b.t);
  const dg = g.append('g').attr('clip-path', `url(#clip${p.id})`);
  // lower Poisson error bars (reaching the axis floor for low counts)
  dg.selectAll('line.err').data(pts).join('line')
    .attr('x1', d => x(d.t)).attr('x2', d => x(d.t))
    .attr('y1', d => { const lo = (d.n - Math.sqrt(d.n)) * p.c; return lo > ymin ? y(lo) : h; })
    .attr('y2', d => y(d.v))
    .attr('stroke', '#a4b4c2').attr('stroke-width', 2.2).attr('stroke-opacity', 0.85);
  dg.selectAll('circle').data(pts).join('circle')
    .attr('cx', d => x(d.t)).attr('cy', d => y(d.v)).attr('r', 6.4)
    .attr('fill', NAVY).attr('fill-opacity', 0.47)
    .attr('stroke', NAVY).attr('stroke-opacity', 0.5).attr('stroke-width', 1.2);
  const fitLine = d3.line().x(d => x(d[0])).y(d => y(Math.pow(10, d[1]))).curve(d3.curveMonotoneX);
  dg.append('path').attr('d', fitLine(p.fit)).attr('fill', 'none')
    .attr('stroke', '#e2e2e2').attr('stroke-width', 3);
  finishAxes(p, true, A);
}

lowPanels.forEach(drawLow);
highPanels.forEach(drawHigh);

// shared axis title
fig.append('text')
  .attr('transform', 'translate(35,483) rotate(-90)')
  .attr('text-anchor', 'middle').attr('dominant-baseline', 'central')
  .style('font-family', 'DejaVu Serif').attr('font-size', 30)
  .text('Flux (PFU)');
</script>
</body>
</html>
